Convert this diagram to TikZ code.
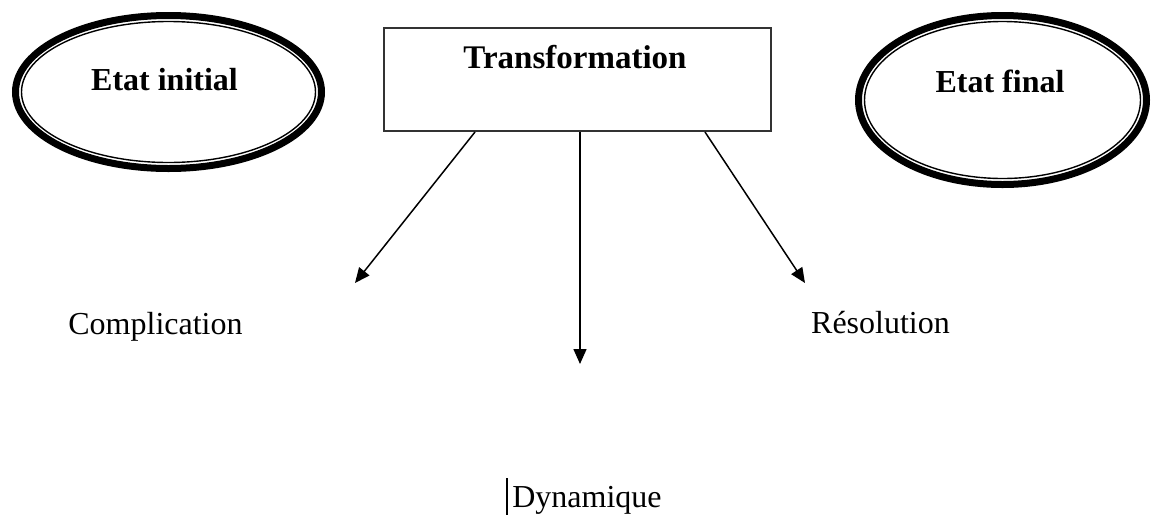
\documentclass[tikz,border=0pt]{standalone}
\usepackage{fontspec}
\setmainfont{Liberation Serif}
\usetikzlibrary{arrows.meta,positioning,shapes.geometric}
\definecolor{EDark}{HTML}{333333}

\begin{document}
\begin{tikzpicture}[x=0.5pt,y=-0.5pt,
  e/.style={ellipse,draw,line width=3.5pt,inner sep=0pt},
  b/.style={draw=EDark,line width=1pt,inner sep=0pt,
    minimum width=193.5pt,minimum height=51.5pt},
  t/.style={anchor=base,font=\fontsize{16}{19}\selectfont\bfseries},
  l/.style={anchor=base,font=\fontsize{16}{19}\selectfont},
  a/.style={-{Triangle[length=7.5pt,width=6.5pt]},line width=0.75pt},
  caret/.style={fill=black,inner sep=0pt,minimum width=1pt,minimum height=18.5pt}
]
  \useasboundingbox (0,0) rectangle (1152,515);
  % etats
  \node[e,minimum width=153pt,minimum height=76.5pt] (ini) at (168.5,92) {};
  \draw[line width=0.7pt] (ini.center) ellipse [x radius=73.5pt,y radius=35.25pt];
  \node[e,minimum width=144pt,minimum height=84.5pt] (fin) at (1002.5,100) {};
  \draw[line width=0.7pt] (fin.center) ellipse [x radius=69pt,y radius=39.25pt];
  \node[t] (iniTxt) at (164.5,90) {Etat initial};
  \node[t] (finTxt) at (1000,92) {Etat final};
  % transformation
  \node[b] (trans) at (577.5,79.5) {};
  \node[t,font=\fontsize{16.5}{19}\selectfont\bfseries] (transTxt) at (575,68) {Transformation};
  % sorties
  \coordinate (tipC) at (355,283);
  \coordinate (tipD) at (580,364);
  \coordinate (tipR) at (805,283);
  \draw[a] ([xshift=-51.25pt]trans.south) -- (tipC);
  \draw[a] ([xshift=1.25pt]trans.south) -- (tipD);
  \draw[a] ([xshift=63.75pt]trans.south) -- (tipR);
  \node[l] (compl) at (155.5,334) {Complication};
  \node[l] (resol) at (880.5,333) {Résolution};
  \node[l] (dyn) at (587,507) {Dynamique};
  \node[caret] (curseur) at (507,496.5) {};
\end{tikzpicture}
\end{document}
